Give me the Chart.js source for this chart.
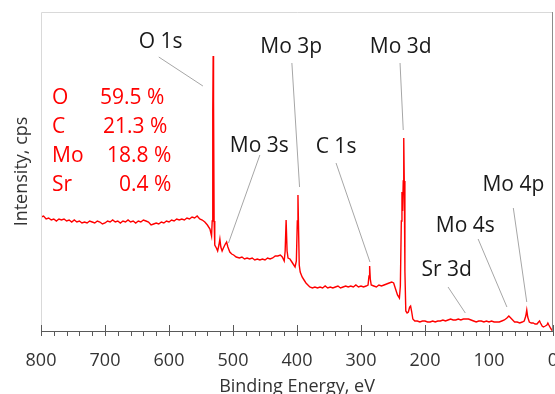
<!DOCTYPE html>
<html>
<head>
<meta charset="utf-8">
<script src="https://cdn.jsdelivr.net/npm/chart.js@4.4.0/dist/chart.umd.min.js"></script>
<style>
    html, body { margin: 0; padding: 0; background: #fff; }
    #wrap { width: 555px; height: 394px; }
</style>
</head>
<body>
<div id="wrap"><canvas id="xps-chart"></canvas></div>
<script>
// binding energy (eV) and intensity (arbitrary cps units)
const energies = [
    800, 796, 792, 788, 784, 780, 776, 772, 768, 764, 760, 756, 752, 748, 744, 740,
    736, 732, 728, 724, 720, 716, 712, 708, 704, 700, 696, 692, 688, 684, 680, 676,
    672, 668, 664, 660, 656, 652, 648, 644, 640, 636, 632, 628, 624, 620, 616, 612,
    608, 604, 600, 596, 592, 588, 584, 580, 576, 572, 568, 564, 560, 556, 552, 548,
    544, 540, 536, 533.5, 532.5, 531.6, 531, 530.4, 529.5, 528.5, 526, 524, 522, 520.5,
    519, 517, 515, 512, 510, 508, 505, 502, 499, 495, 490, 486, 482, 478, 474, 470,
    466, 462, 458, 454, 450, 446, 442, 438, 434, 430, 426, 423, 420, 418.5, 417, 415.5,
    414, 411, 408, 405, 403, 401, 399.5, 398.5, 397.5, 396.5, 395, 392, 389, 386, 383, 380,
    376, 372, 368, 364, 360, 356, 352, 348, 344, 340, 336, 332, 328, 324, 320, 316,
    312, 308, 304, 300, 296, 292, 289, 287.5, 286.5, 285.5, 284, 280, 276, 272, 268, 264,
    260, 256, 252, 249, 246, 243, 240, 238.5, 237, 236, 235, 234, 233.2, 232.4, 231.4, 230,
    228, 226, 224, 222.5, 221, 219, 216, 212, 208, 204, 200, 196, 192, 188, 184, 180,
    176, 172, 168, 164, 160, 156, 152, 148, 144, 140, 136, 132, 128, 124, 120, 116,
    112, 108, 104, 100, 96, 92, 88, 84, 80, 76, 72, 69, 66, 63, 60, 56,
    52, 48, 45, 42.5, 41, 39.5, 37, 34, 31, 28, 25, 22.5, 21, 19.5, 17, 15,
    12, 9.5, 8, 6.5, 4, 2, 0
];
const counts = [
    114, 115, 112, 113, 111, 112, 110, 112, 111, 112, 110, 111, 109, 111, 109, 110,
    108, 109, 108, 110, 109, 108, 110, 109, 107, 108, 110, 109, 111, 109, 110, 108,
    110, 109, 111, 109, 110, 108, 110, 109, 111, 110, 109, 106, 107, 108, 107, 109,
    108, 110, 109, 111, 110, 112, 111, 112, 111, 113, 112, 114, 113, 115, 112, 111,
    109, 106, 102, 95, 110, 220, 275, 230, 110, 86, 83, 80, 86, 92,
    84, 80, 83, 87, 89, 84, 79, 77, 76, 74, 73, 74, 72, 73, 72, 73,
    71, 72, 71, 72, 71, 73, 72, 73, 75, 75, 76, 74, 70, 80, 111, 80,
    73, 72, 69, 66, 64, 70, 110, 136, 100, 66, 59, 54, 51, 48, 46, 44,
    43, 44, 43, 44, 43, 45, 43, 44, 43, 44, 45, 43, 44, 45, 44, 45,
    44, 46, 44, 45, 44, 45, 46, 55, 65, 52, 46, 45, 44, 46, 45, 46,
    47, 48, 49, 48, 42, 36, 33, 45, 110, 139, 120, 150, 193, 150, 60, 20,
    18, 19, 24, 25, 20, 12, 10, 10, 9, 10, 10, 9, 9, 10, 9, 10,
    10, 11, 10, 11, 12, 11, 11, 12, 11, 12, 12, 12, 11, 10, 9, 10,
    10, 9, 10, 9, 10, 9, 9, 9, 10, 11, 13, 15, 13, 11, 9, 9,
    8, 9, 10, 15, 21, 14, 9, 8, 8, 7, 7, 9, 10, 8, 5, 4,
    5, 6, 8, 6, 3, 1, 0
];

// peak labels: text centre and leader line ends, in (eV, cps) data units
const peakNames = ["O 1s", "Mo 3p", "Mo 3d", "Mo 3s", "C 1s", "Mo 4p", "Mo 4s", "Sr 3d"];
const peakTextE = [613, 409, 238, 459, 339, 62, 137, 166];
const peakTextY = [289, 284, 284, 185, 184, 146, 105, 61];
const leaderFrom = [[616, 274], [408, 268], [239, 268], [458, 176], [339, 168], [62, 123], [117, 92], [164, 44]];
const leaderTo = [[547, 245], [396, 144], [234, 201], [507, 88], [286, 69], [41, 29], [72, 24], [137, 18]];

// surface composition
const elements = ["O", "C", "Mo", "Sr"];
const percents = ["59.5 %", "21.3 %", "18.8 %", "0.4 %"];

const xTicks = [800, 700, 600, 500, 400, 300, 200, 100, 0];

const FONT = "'Open Sans', 'DejaVu Sans', sans-serif";

const annotate = {
    id: "annotate",
    afterDatasetsDraw(chart) {
        const ctx = chart.ctx;
        const xs = chart.scales.x;
        const ys = chart.scales.y;
        const area = chart.chartArea;
        ctx.save();

        // frame
        ctx.lineWidth = 1;
        ctx.strokeStyle = "#d9d9d9";
        ctx.beginPath();
        ctx.moveTo(area.left + 0.5, area.bottom);
        ctx.lineTo(area.left + 0.5, area.top + 0.5);
        ctx.lineTo(area.right, area.top + 0.5);
        ctx.stroke();
        ctx.strokeStyle = "#8c8c8c";
        ctx.beginPath();
        ctx.moveTo(area.right - 0.5, area.top);
        ctx.lineTo(area.right - 0.5, area.bottom);
        ctx.stroke();

        // major and minor tick marks on the energy axis
        ctx.strokeStyle = "#595959";
        for (let e = 0; e <= 800; e += 20) {
            const px = Math.round(xs.getPixelForValue(e)) + 0.5;
            ctx.beginPath();
            if (e % 100 === 0) {
                ctx.moveTo(px, area.bottom - 6);
                ctx.lineTo(px, area.bottom + 5);
            } else {
                ctx.moveTo(px, area.bottom);
                ctx.lineTo(px, area.bottom + 5);
            }
            ctx.stroke();
        }

        // leader lines
        ctx.strokeStyle = "#a6a6a6";
        leaderFrom.forEach((p, i) => {
            const q = leaderTo[i];
            ctx.beginPath();
            ctx.moveTo(xs.getPixelForValue(p[0]), ys.getPixelForValue(p[1]));
            ctx.lineTo(xs.getPixelForValue(q[0]), ys.getPixelForValue(q[1]));
            ctx.stroke();
        });

        // peak names
        ctx.font = "21px " + FONT;
        ctx.fillStyle = "#1a1a1a";
        ctx.textAlign = "center";
        ctx.textBaseline = "middle";
        peakNames.forEach((name, i) => {
            ctx.fillText(name, xs.getPixelForValue(peakTextE[i]), ys.getPixelForValue(peakTextY[i]));
        });

        // composition table
        ctx.fillStyle = "#ff0000";
        ctx.textAlign = "left";
        const valueX = [59, 62, 66, 78];
        elements.forEach((el, i) => {
            const y = area.top + 86 + i * 29;
            ctx.fillText(el, area.left + 11, y);
            ctx.fillText(percents[i], area.left + valueX[i], y);
        });

        ctx.restore();
    }
};

document.addEventListener("DOMContentLoaded", function () {
    const ctx = document.getElementById("xps-chart").getContext("2d");

    new Chart(ctx, {
        type: "line",
        data: {
            datasets: [{
                label: "XPS survey",
                data: energies.map((e, i) => ({ x: e, y: counts[i] })),
                borderColor: "#ff0000",
                borderWidth: 1.4,
                pointRadius: 0,
                tension: 0,
                fill: false,
            }],
        },
        options: {
            responsive: true,
            maintainAspectRatio: false,
            animation: false,
            layout: { padding: { top: 12, right: 2, left: 0, bottom: 0 } },
            plugins: {
                legend: { display: false },
                tooltip: { enabled: false },
            },
            scales: {
                x: {
                    type: "linear",
                    reverse: true,
                    min: 0,
                    max: 800,
                    afterBuildTicks: scale => {
                        scale.ticks = xTicks.map(v => ({ value: v }));
                    },
                    afterFit: scale => {
                        scale.height = 63;
                        scale.paddingLeft = 0;
                        scale.paddingRight = 0;
                    },
                    grid: { display: false, drawTicks: false },
                    border: { display: true, color: "#595959", width: 1 },
                    ticks: {
                        padding: 19,
                        color: "#333333",
                        font: { family: FONT, size: 18 },
                        maxRotation: 0,
                    },
                    title: {
                        display: true,
                        text: "Binding Energy, eV",
                        color: "#333333",
                        font: { family: FONT, size: 18 },
                        padding: { top: 0, bottom: -4 },
                    },
                },
                y: {
                    min: 0,
                    max: 319,
                    afterFit: scale => { scale.width = 41; },
                    grid: { display: false, drawTicks: false },
                    border: { display: false },
                    ticks: { display: false },
                    title: {
                        display: true,
                        text: "Intensity, cps",
                        color: "#333333",
                        font: { family: FONT, size: 18 },
                        padding: { top: 11, bottom: 0 },
                    },
                },
            },
        },
        plugins: [annotate],
    });
});
</script>
</body>
</html>
